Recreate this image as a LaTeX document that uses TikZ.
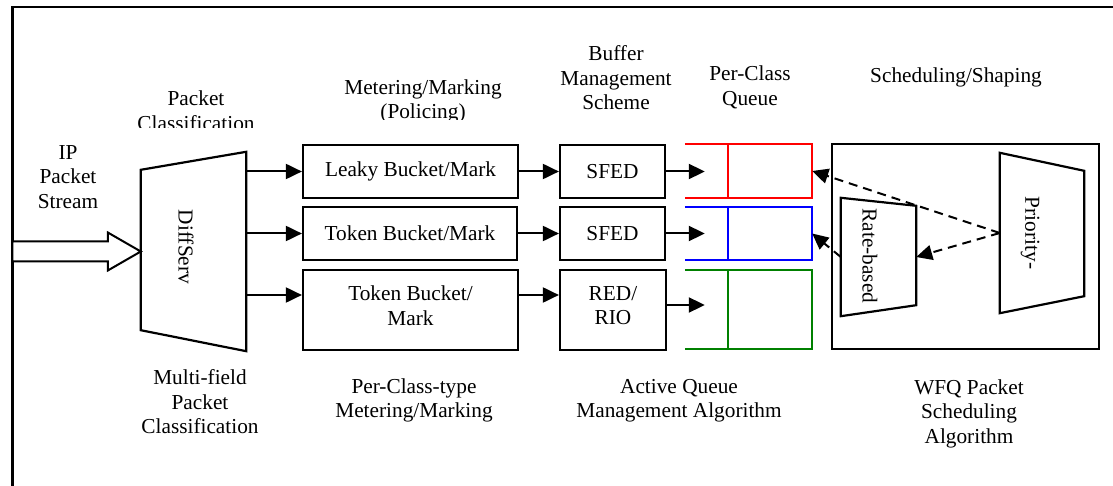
\documentclass[tikz,border=0pt]{standalone}
\usepackage{fontspec}
\setmainfont{Liberation Serif}
\usetikzlibrary{arrows.meta,calc}
\definecolor{qred}{RGB}{255,0,0}
\definecolor{qblue}{RGB}{0,0,255}
\definecolor{qgreen}{RGB}{0,128,0}
\begin{document}
\begin{tikzpicture}[x=1pt,y=-1pt,
  every node/.style={font=\fontsize{21.3}{24.5}\selectfont, inner sep=0pt, align=center},
  stagebox/.style={draw, line width=2.2pt},
  ghost/.style={draw=none},
  qline/.style={line width=2pt},
  arr/.style={line width=2pt, -{Triangle[length=16pt,width=15pt]}},
  darr/.style={line width=2pt, dash pattern=on 9pt off 6pt, -{Triangle[length=16pt,width=15pt]}},
  trap/.style={line width=2.2pt}]
\useasboundingbox (0,0) rectangle (1113,486);

% outer frame (only left and top edges visible)
\coordinate (fbl) at (12.5,486);
\coordinate (ftl) at (12.5,7);
\coordinate (ftr) at (1113,7);
\draw[line width=2.6pt] (fbl) -- (ftl) -- (ftr);

% header labels
\node (hIP) at (68,177) {IP\\Packet\\Stream};
\begin{scope}
  \clip (100,60) rectangle (300,128);
  \node (hPC) at (196,110.5) {Packet\\Classification};
\end{scope}
\begin{scope}
  \clip (300,60) rectangle (540,120);
  \node (hMM) at (423,101.5) {Metering/Marking\\(Policing)};
\end{scope}
\node (hBM) at (616,78) {Buffer\\Management\\Scheme};
\begin{scope}
  \clip (690,50) rectangle (820,108.5);
  \node (hPQ) at (750,87.5) {Per-Class\\Queue};
\end{scope}
\node (hSS) at (956,77) {Scheduling/Shaping};

% footer labels
\node (fMF) at (200,402) {Multi-field\\Packet\\Classification};
\node (fPC) at (414,400.5) {Per-Class-type\\Metering/Marking};
\node (fAQ) at (679,400.5) {Active Queue\\Management Algorithm};
\node (fWF) at (969,413.5) {WFQ Packet\\Scheduling\\Algorithm};

% DiffServ classifier (trapezoid)
\node[ghost, minimum width=105pt, minimum height=199pt] (ds) at (193.5,251.5) {};
\draw[trap] ($(ds.north west)+(0,18)$) -- (ds.north east) -- (ds.south east)
  -- ($(ds.south west)+(0,-21)$) -- cycle;
\node[rotate=-90] (dsl) at (186,247) {DiffServ};

% hollow input arrow
\draw[line width=2pt, fill=white] (ds.west) -- ++(-33,-19) -- ++(0,9) -- ++(-95.5,0)
  -- ++(0,20) -- ++(95.5,0) -- ++(0,9) -- cycle;

% metering boxes
\node[stagebox, minimum width=215pt, minimum height=53pt] (lb) at (410.5,171.5) {Leaky Bucket/Mark};
\node[stagebox, minimum width=214pt, minimum height=53pt] (tb1) at (410,233.5) {Token Bucket/Mark};
\node[stagebox, minimum width=215pt, minimum height=80pt] (tb2) at (410.5,310) {};
\node (tb2l) at (410.5,305.5) {Token Bucket/\\Mark};

% buffer management boxes
\node[stagebox, minimum width=105pt, minimum height=53pt] (s1) at (612.5,171.5) {SFED};
\node[stagebox, minimum width=105pt, minimum height=53pt] (s2) at (612.5,233.5) {SFED};
\node[stagebox, minimum width=106pt, minimum height=80pt] (rr) at (613,310) {};
\node (rrl) at (613,305.5) {RED/\\RIO};

% connector ports
\coordinate (tb2in) at ([yshift=15pt]tb2.west);
\coordinate (tb2out) at ([yshift=15pt]tb2.east);
\coordinate (rrout) at ([yshift=5pt]rr.east);

% classifier -> metering
\draw[arr] (ds.east |- lb.west) -- (lb.west);
\draw[arr] (ds.east |- tb1.west) -- (tb1.west);
\draw[arr] (ds.east |- tb2in) -- (tb2in);

% metering -> buffer management
\draw[arr] (lb.east) -- (s1.west |- lb.east);
\draw[arr] (tb1.east) -- (s2.west |- tb1.east);
\draw[arr] (tb2out) -- (rr.west |- tb2out);

% per-class queues
\node[ghost, minimum width=127pt, minimum height=54pt] (q1) at (748.5,171) {};
\node[ghost, minimum width=127pt, minimum height=53pt] (q2) at (748.5,233.5) {};
\node[ghost, minimum width=127pt, minimum height=79pt] (q3) at (748.5,309.5) {};
\draw[qline, qred] (q1.north west) -- (q1.north east) -- (q1.south east) -- (q1.south west);
\draw[qline, qred] ($(q1.north west)+(43,0)$) -- ($(q1.south west)+(43,0)$);
\draw[qline, qblue] (q2.north west) -- (q2.north east) -- (q2.south east) -- (q2.south west);
\draw[qline, qblue] ($(q2.north west)+(43,0)$) -- ($(q2.south west)+(43,0)$);
\draw[qline, qgreen] (q3.north west) -- (q3.north east) -- (q3.south east) -- (q3.south west);
\draw[qline, qgreen] ($(q3.north west)+(43,0)$) -- ($(q3.south west)+(43,0)$);
\coordinate (q1in) at ([xshift=20pt]q1.west);
\coordinate (q2in) at ([xshift=20pt]q2.west);
\coordinate (q3in) at ([xshift=20pt]q3.west);

% buffer management -> queues
\draw[arr] (s1.east) -- (q1in |- s1.east);
\draw[arr] (s2.east) -- (q2in |- s2.east);
\draw[arr] (rrout) -- (q3in |- rrout);

% scheduler
\node[stagebox, minimum width=267pt, minimum height=205pt] (sch) at (965.5,246.5) {};

% rate-based trapezoid
\node[ghost, minimum width=75pt, minimum height=118pt] (rb) at (878.5,257) {};
\draw[trap] (rb.north west) -- ($(rb.north east)+(0,8)$) -- ($(rb.south east)+(0,-11)$)
  -- (rb.south west) -- cycle;
\node[rotate=-90] (rbl) at (870,256) {Rate-based};

% priority trapezoid
\node[ghost, minimum width=84pt, minimum height=160pt] (pr) at (1042,233) {};
\draw[trap] (pr.north west) -- ($(pr.north east)+(0,18)$) -- ($(pr.south east)+(0,-17)$)
  -- (pr.south west) -- cycle;
\node[rotate=-90] (prl) at (1030,233) {Priority-};

% dashed scheduling arrows
\draw[darr] (pr.west) -- (q1.east);
\draw[darr] (pr.west) -- (rb.east);
\draw[darr] (rb.west) -- (q2.east);
\end{tikzpicture}
\end{document}
